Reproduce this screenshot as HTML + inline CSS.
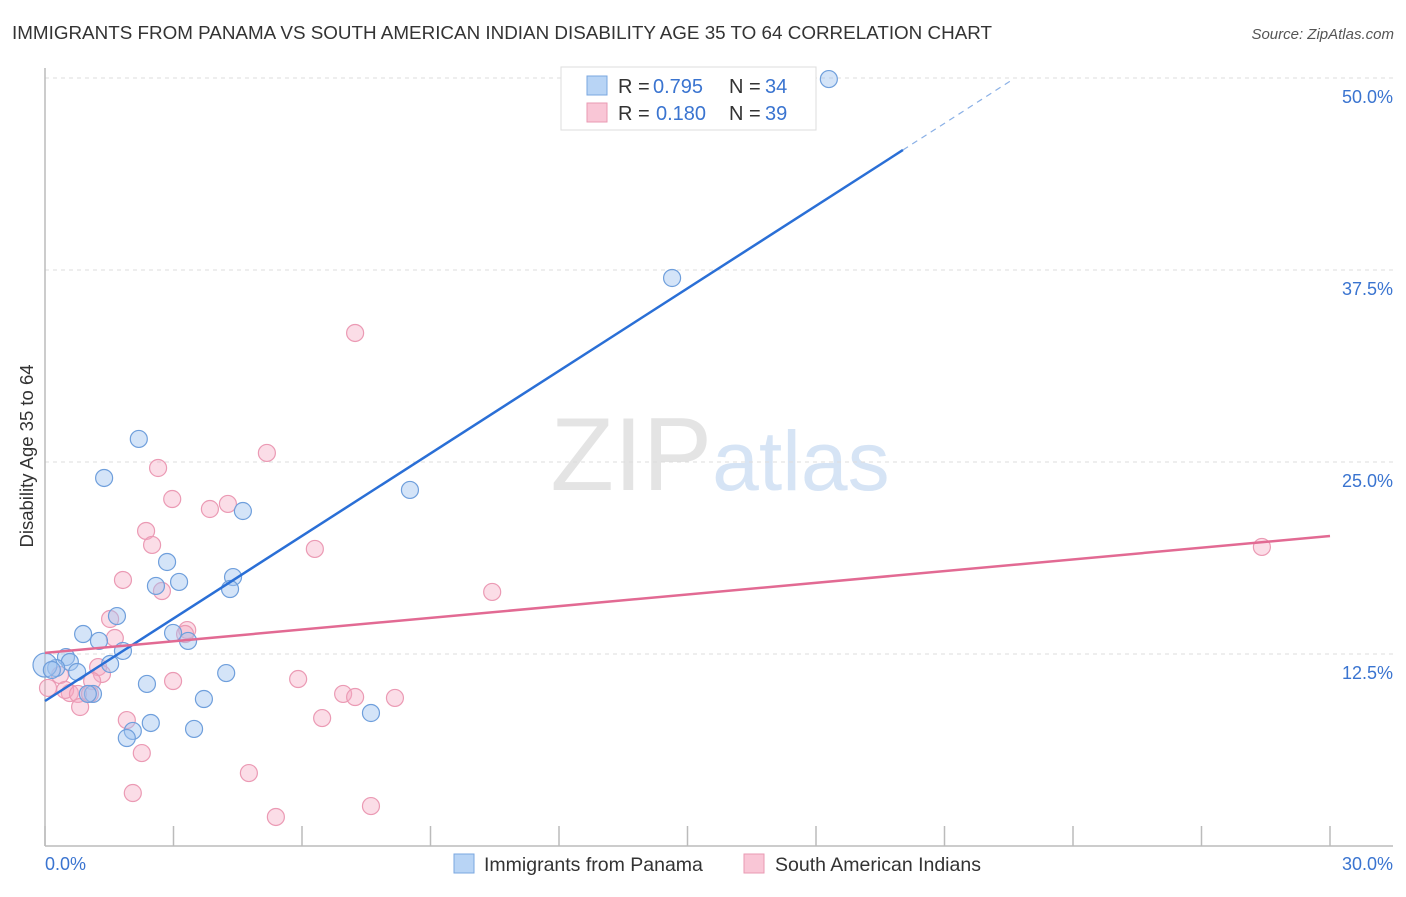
<!DOCTYPE html>
<html><head><meta charset="utf-8"><style>
body{margin:0;background:#fff;font-family:"Liberation Sans",sans-serif;}
svg text{font-family:"Liberation Sans",sans-serif;}
</style></head><body>
<svg id="chart" width="1406" height="892" xmlns="http://www.w3.org/2000/svg">
<text x="12" y="39" font-size="18" fill="#333" textLength="980" lengthAdjust="spacingAndGlyphs">IMMIGRANTS FROM PANAMA VS SOUTH AMERICAN INDIAN DISABILITY AGE 35 TO 64 CORRELATION CHART</text>
<text x="1394" y="39" font-size="15" fill="#555" text-anchor="end" font-style="italic">Source: ZipAtlas.com</text>
<text x="720" y="490" font-size="104" text-anchor="middle" fill="#e4e4e4" font-family="Liberation Serif">ZIP<tspan fill="#d6e4f5" font-family="Liberation Sans" font-size="84">atlas</tspan></text>
<g id="grid"></g>
<g id="axes"></g>
<g id="marks"></g>
<text transform="translate(33,456) rotate(-90)" font-size="18.5" fill="#333" text-anchor="middle">Disability Age 35 to 64</text>
<g>
<rect x="561" y="67" width="255" height="63" fill="#fff" stroke="#ddd"/>
<rect x="587" y="76" width="20" height="19" fill="#b8d4f5" stroke="#7aa7e0"/>
<rect x="587" y="103" width="20" height="19" fill="#f9c6d6" stroke="#e99ab3"/>
<text x="618" y="93" font-size="20" fill="#333">R =</text>
<text x="653" y="93" font-size="20" fill="#3a74d0">0.795</text>
<text x="729" y="93" font-size="20" fill="#333">N =</text>
<text x="765" y="93" font-size="20" fill="#3a74d0">34</text>
<text x="618" y="120" font-size="20" fill="#333">R =</text>
<text x="656" y="120" font-size="20" fill="#3a74d0">0.180</text>
<text x="729" y="120" font-size="20" fill="#333">N =</text>
<text x="765" y="120" font-size="20" fill="#3a74d0">39</text>
</g>
<g>
<rect x="454" y="854" width="20" height="19" fill="#b8d4f5" stroke="#7aa7e0"/>
<text x="484" y="871" font-size="19.5" fill="#333">Immigrants from Panama</text>
<rect x="744" y="854" width="20" height="19" fill="#f9c6d6" stroke="#e99ab3"/>
<text x="775" y="871" font-size="19.5" fill="#333">South American Indians</text>
</g>
</svg>
<script>
const blueX=[18.30,14.64,2.19,1.38,8.52,4.62,2.85,3.13,2.59,4.39,4.32,1.68,0.89,1.26,2.99,3.34,1.82,0.49,1.52,0.58,0.26,0.0,0.16,0.75,4.23,2.38,3.71,1.12,1.00,7.61,2.47,2.05,1.91,3.48];
const blueY=[49.93,36.98,26.50,23.96,23.18,21.81,18.49,17.19,16.93,17.51,16.73,14.97,13.80,13.35,13.87,13.35,12.70,12.30,11.85,11.98,11.59,11.78,11.46,11.33,11.26,10.55,9.57,9.90,9.90,8.66,8.01,7.49,7.03,7.62];
const pinkX=[7.24,5.18,2.64,2.97,4.27,3.85,2.36,2.50,6.30,1.82,2.73,10.44,1.52,1.63,3.32,3.27,1.24,1.33,0.35,1.10,2.99,5.91,0.07,0.58,0.47,0.77,1.05,6.96,7.24,8.17,0.82,6.47,1.91,2.26,4.76,2.05,7.61,5.39,28.41];
const pinkY=[33.40,25.59,24.61,22.59,22.27,21.94,20.51,19.60,19.34,17.32,16.60,16.54,14.78,13.54,14.06,13.80,11.65,11.20,11.13,10.74,10.74,10.87,10.29,9.96,10.16,9.90,9.90,9.90,9.70,9.64,9.05,8.33,8.20,6.05,4.75,3.45,2.60,1.89,19.47];
const yTicks=[12.5,25.0,37.5,50.0];
const yTickLabels=["12.5%","25.0%","37.5%","50.0%"];
const blueLine=[9.44,1.791];
const pinkLine=[12.57,20.18];
const NS="http://www.w3.org/2000/svg";
const X=v=>45+v/30*1285, Y=v=>846-v/50*768;
function mk(t,a,p){const e=document.createElementNS(NS,t);for(const k in a)e.setAttribute(k,a[k]);p.appendChild(e);return e;}
const grid=document.getElementById('grid'),axes=document.getElementById('axes'),marks=document.getElementById('marks');
yTicks.forEach((t,i)=>{
 const l=mk('line',{x1:45,x2:1393,y1:Y(t),y2:Y(t),stroke:'#ddd','stroke-dasharray':'4,4'},grid);
 
 
 const tx=mk('text',{x:1393,y:Y(t)+25,'font-size':18,fill:'#3a74d0','text-anchor':'end'},axes);
 tx.textContent=yTickLabels[i];
 
 
});
mk('line',{x1:45,x2:45,y1:68,y2:846,stroke:'#bbb','stroke-width':1.5},axes);
mk('line',{x1:45,x2:1393,y1:846,y2:846,stroke:'#bbb','stroke-width':1.5},axes);
for(let i=0;i<=10;i++){mk('line',{x1:X(i*3),x2:X(i*3),y1:826,y2:846,stroke:'#bbb','stroke-width':1.5},axes);}
const x0=mk('text',{x:45,y:870,'font-size':18,fill:'#3a74d0'},axes);x0.textContent='0.0%';


const x1=mk('text',{x:1393,y:870,'font-size':18,fill:'#3a74d0','text-anchor':'end'},axes);x1.textContent='30.0%';


pinkX.forEach((v,i)=>{const c=mk('circle',{cx:X(v),cy:Y(pinkY[i]),r:8.5,fill:'rgba(246,170,195,0.4)',stroke:'#eb9ab4','stroke-width':1.2},marks);
 
 });
blueX.forEach((v,i)=>{const c=mk('circle',{cx:X(v),cy:Y(blueY[i]),r:(i==21?12:8.5),fill:'rgba(160,195,240,0.45)',stroke:'#6f9fdc','stroke-width':1.2},marks);
 
 });
const bl=mk('line',{x1:X(0),y1:Y(blueLine[0]),x2:X(20.03),y2:Y(blueLine[0]+blueLine[1]*20.03),stroke:'#2a6fd6','stroke-width':2.5},marks);


const bd=mk('line',{x1:X(20.03),y1:Y(blueLine[0]+blueLine[1]*20.03),x2:X(22.53),y2:Y(blueLine[0]+blueLine[1]*22.53),stroke:'#8ab0e6','stroke-width':1.2,'stroke-dasharray':'6,5'},marks);


const pl=mk('line',{x1:X(0),y1:Y(pinkLine[0]),x2:X(30),y2:Y(pinkLine[1]),stroke:'#e26a93','stroke-width':2.5},marks);


</script>
</body></html>
